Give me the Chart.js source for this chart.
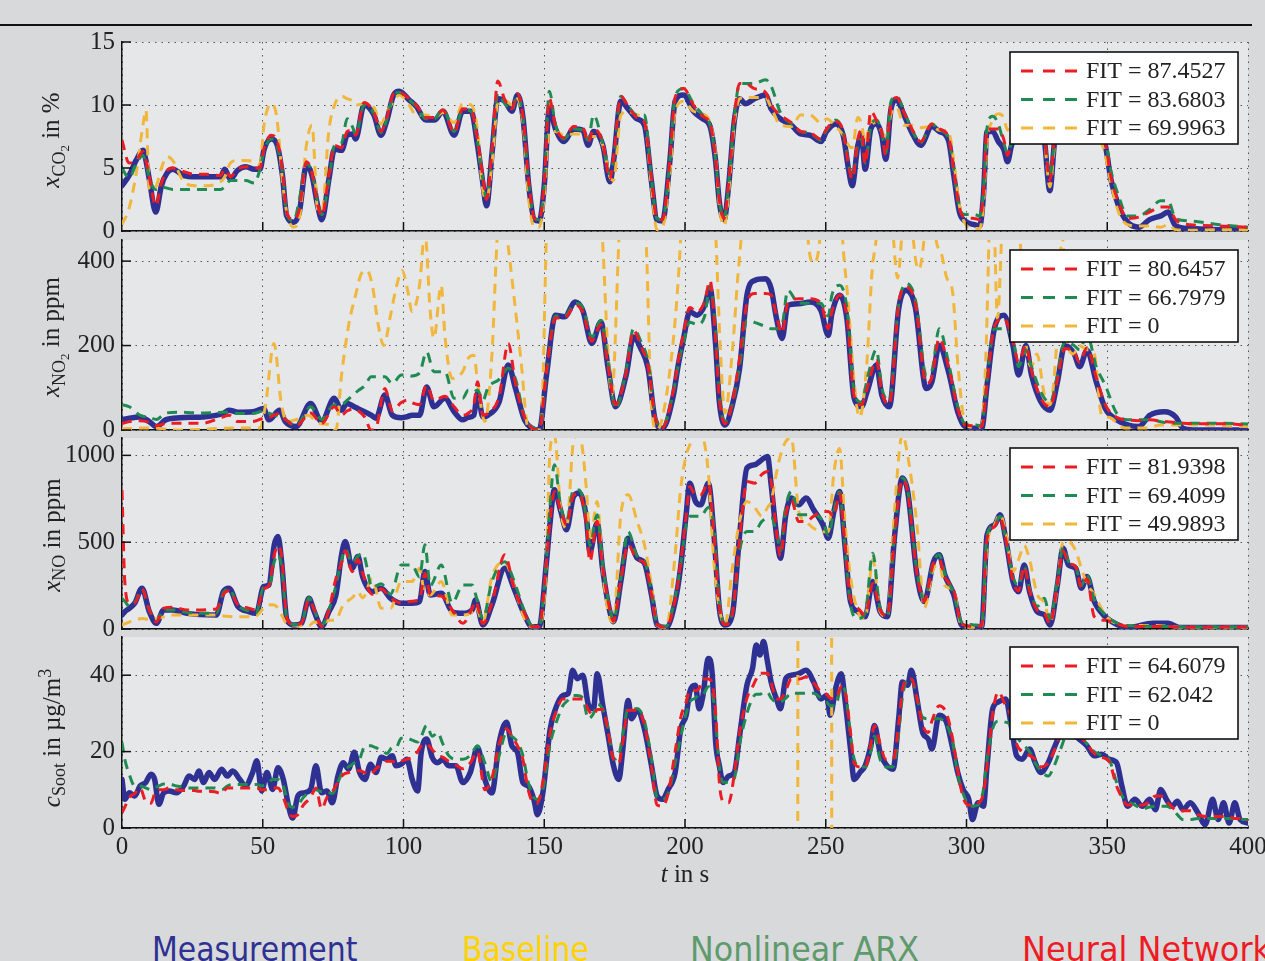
<!DOCTYPE html>
<html><head><meta charset="utf-8">
<script src="https://cdn.jsdelivr.net/npm/chart.js@4.4.1/dist/chart.umd.min.js"></script>
<style>
html,body{margin:0;padding:0;background:#d8d9db;}
#page{position:relative;width:1265px;height:961px;overflow:hidden;background:#d8d9db;font-family:'Liberation Serif',serif;color:#222;}
#topline{position:absolute;left:0;top:24px;width:1252px;height:2px;background:#111;}
canvas{position:absolute;left:0;}
.ytitle{position:absolute;white-space:nowrap;font-size:25px;line-height:1;transform:translate(-50%,-50%) rotate(-90deg);}
.ytitle sub{font-size:0.72em;vertical-align:-0.32em;line-height:0;}
.ytitle sup{font-size:0.72em;vertical-align:0.45em;line-height:0;}
#xtitle{position:absolute;left:685px;top:873px;transform:translate(-50%,-50%);font-size:25px;white-space:nowrap;line-height:1;}
.bl{position:absolute;top:932px;font-family:'DejaVu Sans',sans-serif;font-size:34px;line-height:34px;white-space:nowrap;transform-origin:0 0;}
</style></head>
<body><div id="page">
<div id="topline"></div>
<canvas id="c1" width="1265" height="229" style="top:22px"></canvas>
<canvas id="c2" width="1265" height="230" style="top:220px"></canvas>
<canvas id="c3" width="1265" height="231" style="top:418px"></canvas>
<canvas id="c4" width="1265" height="256" style="top:617px"></canvas>
<div class="ytitle" style="left:51px;top:140px"><i>x</i><sub>CO<sub>2</sub></sub> in %</div>
<div class="ytitle" style="left:51px;top:337px"><i>x</i><sub>NO<sub>2</sub></sub> in ppm</div>
<div class="ytitle" style="left:51px;top:535px"><i>x</i><sub>NO</sub> in ppm</div>
<div class="ytitle" style="left:51px;top:738px"><i>c</i><sub>Soot</sub> in µg/m<sup>3</sup></div>
<div id="xtitle"><i>t</i> in s</div>
<div class="bl" style="left:152px;color:#2e3192;transform:scaleX(0.88)">Measurement</div>
<div class="bl" style="left:462px;color:#ffd200;transform:scaleX(0.88)">Baseline</div>
<div class="bl" style="left:690px;color:#5e9a6c;transform:scaleX(0.935)">Nonlinear ARX</div>
<div class="bl" style="left:1022px;color:#ed1c24;transform:scaleX(0.94)">Neural Network</div>
</div>
<script>
// ---------- shared axis / legend data ----------
const xTicks = [0,50,100,150,200,250,300,350,400];
const co2Ticks = [0,5,10,15];
const no2Ticks = [0,200,400];
const noTicks = [0,500,1000];
const sootTicks = [0,20,40];
const co2Fit = [87.4527, 83.6803, 69.9963];
const no2Fit = [80.6457, 66.7979, 0];
const noFit = [81.9398, 69.4099, 49.9893];
const sootFit = [64.6079, 62.042, 0];

// ---------- CO2 (%) ----------
const tCO2 = [0,2.5,5,7.5,8.5,9.7,12,14,16,18,22,26,30,35,36.5,38.5,41,44,47,49,50.5,53,55,57,58.5,61,63,65.5,67.5,69.5,71,73.5,75.5,78,80,82,83,86,89.5,92,94,96.5,98.5,102,104.5,108,111,114,118,121,124,126.3,128,129.5,131.5,133.5,136,138.5,140.5,142.5,144.5,146.5,148.2,150,151.8,154,157,160.4,163.7,165.6,167.5,170.8,173.3,174.6,177.2,179.8,183,185.6,188.1,190,192,194.6,196.5,199.5,203,206.3,208.9,210.9,212.2,213.9,215.5,217.5,219.4,221.4,224.7,228.6,230.6,233.9,237.8,241.1,244.4,248.3,250.3,253.5,256.2,258.1,259.4,261.4,262.7,264,266,268,269.9,271.3,273.2,275.2,277.8,281.1,283.7,287.7,290.3,293.6,295.5,297.5,299.5,302.8,304.7,306,307.3,309.3,311.3,313.2,314.6,316,320,324,327.5,329.6,331.5,335,340,345,349.3,351.3,354,357.2,361.2,365,369,371.6,374.3,379.5,390,400];
const co2Meas = [3.6,4.4,5.6,6.4,5.6,4.1,1.5,3.6,4.6,4.9,4.4,4.3,4.3,4.3,4.9,4.1,4.8,5.1,4.9,4.9,6.5,7.3,6.9,4.4,1.2,0.7,1.5,5.2,4.4,2.0,0.9,4.1,6.5,6.4,7.6,7.7,7.3,10.0,9.2,7.6,8.7,10.8,11.1,10.4,9.9,8.8,8.8,9.5,7.6,9.5,9.5,6.8,4.1,2.0,6.3,10.5,10.3,9.5,10.8,8.9,3.6,0.9,0.8,3.6,9.7,8.1,7.1,8.1,8.0,6.8,7.9,6.8,3.9,5.5,10.3,9.7,8.9,8.4,3.9,0.9,0.8,5.5,10.3,10.8,9.5,8.9,8.3,5.5,2.3,0.9,3.6,8.7,10.5,10.1,10.5,10.8,9.7,8.9,8.4,7.7,7.6,7.1,7.9,8.5,7.6,4.9,3.6,6.8,7.6,4.9,8.1,8.5,7.6,5.7,9.7,10.4,9.2,7.6,6.8,8.3,7.9,7.2,4.4,1.5,0.8,0.5,0.4,2.8,7.9,7.9,7.1,6.5,5.5,6.8,8.5,8.7,7.5,3.2,7.5,8.7,8.7,8.5,6.8,4.1,2.0,0.7,0.3,0.9,1.2,1.5,0.4,0.2,0.1,0.1];
const co2NN = [7.2,5.4,5.6,6.3,5.6,4.3,2.0,3.8,4.8,5.0,4.7,4.5,4.5,4.4,4.9,4.3,4.9,5.1,5.0,5.0,6.6,7.6,7.2,4.8,1.5,0.9,1.7,5.5,4.6,2.1,1.2,4.4,6.8,6.6,7.9,8.0,7.6,10.2,9.4,7.9,8.9,10.9,11.0,10.5,10.0,9.0,9.0,9.6,7.8,9.7,9.6,7.2,4.6,2.5,6.6,11.9,10.4,9.7,10.9,9.0,3.9,1.0,0.9,3.8,10.5,8.3,7.4,8.3,8.2,7.0,8.1,7.0,4.1,5.8,10.7,9.9,9.0,8.6,4.2,1.0,0.9,5.6,10.6,11.3,10.0,9.1,8.5,5.7,2.5,1.0,3.8,9.0,11.7,11.7,11.3,11.0,10.0,9.2,8.6,7.9,7.8,7.3,8.1,8.7,7.9,5.2,4.1,7.3,8.0,5.3,9.5,8.8,7.8,6.0,10.0,10.6,9.4,7.9,7.1,8.5,8.1,7.5,4.8,1.8,1.1,1.0,0.9,3.0,8.1,8.1,8.1,7.3,6.0,7.2,8.7,8.9,7.8,4.0,7.8,8.9,8.9,8.7,7.0,4.3,2.3,1.0,1.1,1.5,1.9,1.9,0.9,0.5,0.4,0.3];
const co2NARX = [5.0,4.2,5.3,6.0,5.4,4.2,3.3,3.5,3.4,3.3,3.3,3.3,3.3,3.3,3.5,4.0,4.0,4.0,3.8,4.9,6.4,7.3,6.8,4.6,1.4,0.8,2.5,5.4,4.6,2.3,1.3,4.0,6.8,7.0,8.9,8.2,7.6,10.0,9.3,7.8,8.8,10.8,11.0,10.4,9.9,8.9,8.9,9.7,7.9,9.6,9.5,7.0,4.4,2.6,6.5,10.9,10.1,9.6,10.8,8.9,3.8,1.0,0.9,3.7,11.1,8.4,7.3,8.1,8.0,7.2,9.2,6.9,4.5,5.6,10.7,9.9,9.2,9.2,4.1,1.0,0.9,5.5,10.7,11.3,10.1,9.2,8.4,5.6,2.4,1.0,3.7,9.0,11.7,11.7,11.7,12.0,11.5,9.4,8.5,7.9,7.8,7.2,8.0,8.8,7.8,5.3,4.2,6.9,7.3,5.4,8.3,8.8,7.8,6.2,10.3,10.7,9.5,7.8,7.0,8.5,8.0,7.4,4.7,1.8,1.3,1.3,1.2,3.0,8.2,9.1,8.5,7.0,6.2,7.0,8.6,8.8,7.6,4.4,7.5,8.8,8.8,8.6,7.2,4.8,2.8,1.2,1.2,1.7,2.4,2.4,1.0,0.8,0.5,0.3];
const co2Base = [0.5,1.8,4.5,8.5,9.6,3.3,3.5,5.0,5.9,5.6,3.9,3.6,3.6,3.9,4.3,5.4,5.6,5.6,5.5,5.3,8.5,10.1,9.0,4.0,1.5,0.3,1.0,6.8,8.4,1.7,1.5,8.0,10.0,10.7,10.5,10.3,10.0,10.1,9.8,8.5,9.4,10.3,10.8,10.0,9.2,9.2,9.0,9.4,8.6,10.1,10.0,8.0,3.5,2.5,5.5,10.2,10.4,10.0,10.5,8.5,2.5,0.3,0.3,2.8,7.9,7.9,7.6,7.7,7.7,7.5,7.5,6.8,4.3,4.0,9.2,9.5,9.2,8.8,3.5,0.1,0.3,4.5,9.5,10.3,9.5,9.3,8.6,6.0,2.0,0.4,3.0,8.5,10.5,10.6,10.6,10.6,9.8,8.4,8.3,9.2,9.2,8.6,8.9,8.3,7.6,6.8,6.6,9.0,8.5,7.0,8.8,8.3,7.9,7.2,9.3,9.8,8.4,8.4,8.2,8.3,8.0,7.9,5.5,2.0,0.6,0.2,0.2,2.0,7.0,8.8,9.3,9.0,8.0,8.5,8.6,8.6,7.5,3.5,7.2,8.6,8.6,8.4,6.0,3.8,1.5,0.5,0.4,0.4,0.3,0.5,0.1,0.05,0.1,0.1];

// ---------- NO2 (ppm) ----------
const tNO2 = [0,2.6,6.4,9.7,12.2,15.5,20.6,28.4,36,38,41.2,46.4,50.3,52.2,56,58,61.9,67,70.9,75.4,78,79.9,82.5,84,86.3,88.5,90.2,93.4,96,99.2,101.5,103,105.7,108.2,110.8,114.7,118,121,123,125,126.3,128.2,130,134,137.2,139.8,143,145.6,148.2,150.8,154,157.2,161,163.7,166.9,170.1,172.7,175.3,179.1,181.7,184.3,186.9,189.4,192,195.9,197.5,199.5,201.7,204.3,207,208.9,210.9,212.2,214.2,216.8,219.4,222,224.7,228.6,230.6,232.5,234.5,236.5,240.4,244.4,248.3,250.9,252.2,254.9,257.5,260.1,262.7,264.7,268,269.9,272.6,275.9,278.5,281.8,285.7,287.7,290.3,293.6,296.9,299.5,303.4,305.4,307.3,309.9,313.3,316.5,318.5,321.1,323.1,326.4,329.7,332.3,334.9,338.2,340.2,342.8,346.1,349.3,353.3,357.2,361.2,365.1,370.3,374.3,376.9,382.2,390,400];
const no2Meas = [24,28,31,20,8,24,29,31,39,47,42,43,51,24,47,20,8,63,20,75,47,63,55,50,43,35,28,83,35,29,32,35,35,102,55,75,43,24,30,35,87,31,35,67,154,98,24,4,0,130,272,268,303,283,205,256,146,55,130,220,193,146,24,4,83,150,217,280,272,295,335,200,67,12,59,146,319,354,358,335,264,217,295,299,303,283,224,276,319,264,75,55,91,154,83,55,287,331,291,98,114,200,138,43,8,4,4,106,240,272,200,130,200,130,67,47,114,200,181,150,189,114,51,24,12,8,35,43,31,4,0,0,0];
const no2NN = [15,20,22,18,10,15,16,16,31,35,20,20,28,30,39,25,10,40,15,55,35,45,50,45,30,0,5,98,45,65,71,65,60,106,70,80,55,35,40,60,114,35,40,80,205,110,30,5,0,140,265,265,295,280,210,250,150,60,135,236,200,150,30,5,95,160,230,290,280,305,354,210,75,15,65,170,300,323,323,320,270,230,300,311,311,300,240,280,320,270,80,60,100,165,90,60,300,339,300,110,125,217,150,50,12,10,8,110,245,264,210,161,200,140,75,55,120,193,185,160,195,125,60,30,24,22,24,20,18,16,15,15,12];
const no2NARX = [60,55,35,30,25,40,42,40,42,42,39,39,45,40,31,25,10,55,25,60,60,70,85,94,105,126,126,126,110,130,130,128,135,185,138,138,75,75,94,90,95,70,100,120,146,120,30,8,2,135,270,270,300,290,220,260,160,50,140,240,210,160,30,8,90,150,210,255,250,270,343,230,80,20,60,150,260,255,245,240,240,250,331,300,300,300,270,320,343,290,90,65,120,190,100,70,295,347,310,130,140,240,160,55,15,12,10,120,240,240,215,150,190,150,90,65,130,210,200,190,225,150,106,40,24,24,24,18,16,16,16,16,14];
const tNO2Base = [0,10,20,30,40,49,51,54,56.5,58.5,62,66,70,74,76,78,80.5,83,85,87,89,91,93,95.4,97.5,99.5,101.5,103,105.7,107.6,109.5,110.8,113.4,114.7,117.3,121,123,125,126.3,128.9,131.4,133.4,135,136.6,139.2,141.8,144.3,148.8,150.8,152,168,170.7,172.5,174,176.5,178,184,186.2,188,190,192,195,197,198.5,200,209,211,212.5,214.2,216.8,218.8,220,222,242,244,246,248,250,254,256,258,260,262,264.5,266.5,268,270,272,274,275.5,277,279,281,283,285,287,289,291,293,295,297,299.5,303.4,305.4,307,308,309,310,311,312.5,314,317,319,320.5,323,325,327.7,329.7,332,334,336,338,340,342.8,345.4,348,350.6,356,364,369,382,400];
const no2Base = [3,5,0,2,5,5,60,205,67,20,25,35,16,12,0,130,248,320,370,378,340,250,200,272,340,378,330,280,343,470,280,217,343,224,122,138,170,177,114,20,177,470,560,470,319,161,4,0,470,700,700,450,200,83,450,700,700,450,67,0,30,161,300,460,700,700,450,200,40,185,366,460,700,700,430,395,460,700,700,450,300,120,30,150,380,460,700,700,460,360,460,700,460,380,460,700,460,420,360,330,150,15,5,10,200,460,700,460,264,460,700,700,460,250,150,180,83,60,200,460,200,180,200,190,180,35,30,5,5,12,12,8];

// ---------- NO (ppm) ----------
const tNO = [0,1,2.6,4.5,7.1,9.7,12.2,14.8,18,23.2,33.5,36,38,41.2,45,47.7,50.3,52.2,54.1,55.4,56.7,58.6,61.2,63.8,66.4,68.3,70.9,73.5,76,78,79.3,81.8,83.8,85.5,88.9,92.1,95.4,99.2,103,105.7,107.6,109.5,113.4,117.3,121.1,124.4,125.6,128.2,131.4,136,139.2,143,145.6,148.2,150.8,152,153.6,155.9,157.9,160.4,162.4,165,166.2,168.8,170.7,173.3,174.6,177.2,179.8,183,185.6,188.1,190.1,193.3,196.5,198.4,200.4,201.7,203.7,205.6,208.3,210.2,212.2,214.2,216.8,219.4,222,224.7,227.3,229.3,230.6,232.5,233.9,235.8,237.8,240.4,243,245.7,249,250.9,252.9,254.9,256.8,258.8,261.4,264,266.7,269.3,271.9,274.5,277.2,279.1,282.4,285,288.3,290.3,292.3,295.5,298.2,302.1,305.4,307.3,310,311.9,313.9,316.5,318.5,320.5,322.4,325.1,327.7,329.7,332.3,334.3,336.2,338.8,340.8,342.8,345.4,349.3,353.3,357.2,366.4,371.7,375.6,400];
const noMeas = [81,100,119,148,235,100,33,110,110,90,81,215,235,129,100,90,244,254,485,533,388,52,23,33,177,100,13,100,196,427,504,350,417,300,215,235,177,148,148,158,331,196,206,100,90,110,167,23,138,350,235,81,13,13,388,600,802,677,571,763,783,638,446,610,350,100,42,273,523,408,379,196,23,8,158,350,658,840,735,715,840,562,119,23,81,542,927,946,975,994,831,542,408,658,754,715,754,687,600,523,677,792,485,158,100,71,273,100,71,542,869,792,311,158,388,427,311,196,23,8,13,542,600,658,523,273,215,369,215,100,81,23,254,465,369,350,235,302,158,71,27,8,33,33,8,8];
const noNN = [800,270,150,150,230,110,40,120,125,110,115,200,220,140,120,110,230,250,427,480,420,60,25,35,170,110,15,110,292,380,450,330,400,320,200,230,180,150,160,170,320,200,190,110,33,120,160,30,150,427,240,90,15,15,390,610,790,680,600,770,780,600,388,620,360,110,45,280,485,400,380,200,25,10,170,370,650,820,773,773,840,560,130,25,85,520,850,840,890,907,850,560,420,660,740,619,619,650,677,677,650,780,500,170,120,80,260,110,75,540,860,790,320,160,380,400,300,220,30,15,20,520,590,640,520,280,220,360,220,110,90,30,260,450,380,360,240,290,71,50,30,15,15,15,10,12];
const noNARX = [177,160,130,150,230,110,45,110,110,95,90,210,230,135,105,95,240,245,388,430,360,60,25,35,180,110,20,110,250,400,460,380,420,436,240,260,200,369,369,300,485,250,369,150,254,254,200,60,273,388,280,100,20,20,400,700,946,700,620,800,800,640,480,658,380,120,50,290,561,420,390,210,30,15,180,360,600,650,650,650,700,600,150,30,90,450,561,561,620,638,640,560,450,700,792,658,658,658,620,540,680,790,480,140,60,90,436,120,80,560,869,800,330,170,390,427,320,200,40,25,20,540,600,650,520,300,250,360,230,130,177,60,280,470,390,360,250,311,170,80,35,20,15,15,12,12];
const noBase = [23,30,40,50,60,55,60,70,80,80,80,75,72,70,70,75,120,140,138,120,80,30,23,20,20,40,30,50,52,120,150,180,215,180,290,119,119,273,273,350,200,196,273,80,80,100,130,40,300,388,250,60,13,13,390,1020,1120,677,580,1080,1120,800,500,735,350,60,40,658,773,619,485,250,23,8,430,800,1000,1060,1120,1120,900,400,119,23,350,620,735,700,650,700,735,900,1000,1080,1100,677,619,580,560,560,900,1040,620,300,100,60,400,100,70,700,1120,1000,600,120,350,370,250,220,20,10,15,480,600,660,560,330,400,480,400,200,150,40,250,500,504,450,350,260,200,80,30,20,20,15,10,10];

// ---------- Soot (µg/m3) ----------
const tSoot = [0,1,2.6,4.5,6.4,8.4,10.3,11.6,13.1,14.8,16.8,19.3,21.9,23.8,25.8,27.3,29,30.9,32.9,35.4,37.4,39.3,41.9,43.8,46.4,47.9,49.6,51.5,53.5,55.4,57.3,59.3,60.6,62.5,64.4,67,68.9,70.9,72.8,74.7,76.7,78.6,80.5,82.5,84.4,86.3,88.3,90.2,92.1,94.1,96,97.3,99.2,101.2,103.1,105,106.3,108.2,110.2,112.1,114,116,118.6,121.1,123.7,126.3,128.9,131.4,134,136.6,138.5,140.5,142.4,144.3,146.3,147.6,149.5,152.1,154,156.6,158.5,160.1,161.7,163.7,165.6,167.5,168.8,170.8,172.7,174.6,176.5,177.8,179.8,181,183,185.6,188.1,190.1,192,194,196.5,198.5,200.4,201.7,203.7,205,206.3,208.3,209.6,210.9,212.2,213.5,215.5,217.5,219.4,222,224,225.3,226.6,227.9,229.3,230.6,232.5,233.9,235.8,237.8,240.4,243,245.7,248.3,250.3,251.6,253.5,255.5,256.8,258.8,260.1,262.1,264,266,267.3,269.3,271.3,273.9,275.9,277.2,279.1,280.4,282.4,284.4,286.4,287.7,290.3,292.9,294.9,296.9,298.8,300.8,302.1,304.1,306,307.3,309.3,311.3,313.9,315.9,317.8,319.8,322.4,324.4,326.4,329,331,333.6,336,339,342.8,345.4,348,350.6,353.3,355.2,357.2,359.8,362.5,365.1,367.1,369,371,373,374.9,376.9,379.5,382.2,384.8,387.4,389.4,391.3,393.3,395.3,397.2,400];
const sootMeas = [12.7,7.5,9.2,8.4,11.0,11.9,14.1,12.7,6.2,9.2,9.7,9.2,11.0,13.6,12.7,14.9,11.9,14.5,12.7,15.4,13.6,14.9,12.7,11.0,14.5,17.6,9.7,14.5,10.1,15.8,12.7,5.3,2.6,8.4,9.2,10.1,16.3,9.2,9.7,6.6,13.6,17.1,15.4,19.8,14.5,12.7,16.7,14.5,18.5,18.0,18.9,16.3,16.7,18.0,12.7,9.7,19.8,23.3,18.5,17.1,18.0,16.3,16.3,11.9,14.5,21.1,12.7,9.2,22.4,27.7,21.5,19.8,11.9,11.0,7.5,3.5,9.2,25.9,31.2,34.7,35.2,41.3,39.1,40.0,32.5,31.2,40.4,32.1,24.2,16.3,12.7,19.8,33.4,28.6,30.8,25.9,16.3,8.4,7.5,10.1,14.5,25.9,29.5,35.6,37.4,31.2,34.3,44.4,40.9,22.4,16.3,11.9,13.6,14.5,24.2,37.4,41.8,47.9,45.3,48.8,43.5,38.2,33.8,31.2,39.1,40.0,40.4,41.3,38.2,33.8,34.7,29.5,36.5,40.4,33.8,20.7,12.7,14.5,16.3,21.5,26.8,19.8,16.7,15.4,28.6,38.2,37.4,41.3,33.8,25.1,23.3,20.7,29.5,27.7,21.5,14.5,10.1,7.5,2.2,6.6,5.7,16.3,31.2,33.0,33.8,26.8,18.9,18.0,20.7,17.1,14.5,17.1,20.7,25.0,27.0,24.0,21.5,18.9,19.3,18.0,17.1,11.0,5.7,7.5,5.7,7.5,4.8,10.1,7.5,5.7,7.0,4.8,6.6,4.0,0.9,7.5,2.2,6.6,1.3,6.6,2.2,1.3];
const sootNN = [4.0,5.5,8.0,9.0,10.5,7.0,6.5,9.0,10.0,10.0,10.5,10.0,9.8,9.8,9.8,9.6,9.6,9.6,9.5,9.0,10.5,10.5,10.5,10.5,10.5,10.5,10.0,10.0,10.5,10.5,8.0,4.0,3.0,3.5,6.0,8.0,10.5,5.0,8.0,9.5,12.0,14.0,14.5,15.0,15.0,14.5,14.0,15.5,16.5,17.5,17.5,17.0,17.5,18.0,18.5,20.0,21.5,22.0,20.5,19.0,18.5,17.5,16.5,15.5,17.0,20.0,10.0,13.0,22.0,26.0,24.0,21.5,18.0,10.0,6.6,6.6,12.0,25.0,30.0,33.8,33.8,33.8,33.8,33.8,31.0,29.5,31.0,31.0,25.0,18.0,17.0,22.0,30.8,30.8,30.8,27.0,16.0,6.0,5.7,9.0,20.0,29.0,33.0,36.0,36.0,36.5,39.0,39.0,38.0,30.0,12.0,7.0,6.6,14.0,25.0,34.0,37.0,39.0,40.5,40.5,40.5,38.0,33.8,33.8,36.0,39.0,39.0,39.5,38.0,35.6,35.0,34.0,33.8,37.0,36.0,25.0,17.0,16.0,16.0,22.0,26.8,22.0,18.0,18.0,27.0,36.0,39.0,39.0,34.0,27.0,25.0,28.0,32.0,30.0,24.0,15.0,8.0,6.0,6.0,6.5,9.0,16.3,30.0,35.6,32.0,29.0,22.0,20.0,19.0,18.0,16.0,17.0,20.0,25.0,27.0,25.0,22.0,19.5,18.5,17.5,11.0,8.0,6.0,6.0,6.0,7.0,8.4,8.4,7.0,5.5,4.5,4.5,4.5,3.5,3.0,3.0,3.0,3.0,3.0,2.5,2.5,2.0];
const sootNARX = [22.4,18.0,14.0,11.0,11.0,10.5,10.0,10.5,11.0,11.5,11.5,11.0,10.8,10.5,10.5,10.5,10.5,10.5,10.5,10.0,11.0,11.4,11.4,11.4,11.4,11.4,11.0,11.5,12.7,12.7,11.0,6.0,5.5,6.0,8.0,9.5,10.0,9.5,9.5,9.0,12.0,15.0,16.0,17.0,18.0,21.5,21.5,21.0,20.5,19.5,21.0,21.0,23.5,23.5,23.0,22.5,24.0,26.8,24.0,25.0,22.0,19.0,18.0,18.0,19.0,21.5,17.0,12.0,19.0,25.0,24.0,22.5,19.0,12.0,8.0,7.5,10.0,22.0,27.0,32.0,33.5,34.7,34.7,34.0,28.6,30.0,32.5,31.0,26.0,18.0,19.0,24.0,31.2,31.2,31.2,28.0,18.0,8.0,7.5,9.0,17.0,24.0,30.0,33.0,34.0,35.0,35.0,37.0,36.0,28.0,16.0,12.0,12.0,13.0,22.0,30.0,34.0,35.0,35.0,35.5,35.5,34.0,33.0,33.0,34.0,35.3,35.3,35.3,35.3,34.0,33.0,32.0,32.0,37.0,36.0,24.0,18.0,16.0,16.0,20.0,24.0,18.0,16.0,16.0,25.0,34.0,39.0,39.0,34.0,29.0,28.6,28.6,28.6,27.0,23.0,14.0,9.0,6.0,5.7,6.0,10.0,18.0,26.0,28.0,27.7,27.0,24.0,22.0,20.0,17.0,15.0,13.6,16.0,21.0,25.0,25.0,22.0,20.0,19.0,18.0,12.0,8.5,7.0,6.0,5.0,5.5,5.7,5.7,5.7,5.0,3.5,2.2,2.2,2.5,2.5,2.5,2.5,2.5,2.5,2.5,2.2,2.2];
const tSootBase = [0,239.8,240.4,251.8,252.4,400];
const sootBase = [-400,-400,500,500,-400,-400];

// ---------- styling ----------
const measColor = '#2e3192', baseColor = '#f1b63c', narxColor = '#1f8a52', nnColor = '#ec1c24';
const pts = (t, v) => t.map((x, i) => ({x: x, y: v[i]}));

function decoPlugin(fits) {
  return {
    id: 'panelDeco',
    beforeDraw(chart) {
      const {ctx, chartArea: a} = chart;
      ctx.save();
      ctx.fillStyle = '#e6e7e9';
      ctx.fillRect(a.left, a.top, a.right - a.left, a.bottom - a.top);
      ctx.restore();
    },
    afterDraw(chart) {
      const {ctx, chartArea: a} = chart;
      const xs = chart.scales.x, ys = chart.scales.y;
      ctx.save();
      ctx.strokeStyle = '#111'; ctx.lineWidth = 1.5;
      ys.ticks.forEach(t => {
        const py = ys.getPixelForValue(t.value);
        ctx.beginPath(); ctx.moveTo(a.left, py); ctx.lineTo(a.left + 9, py); ctx.stroke();
      });
      xs.ticks.forEach(t => {
        if (t.value <= xs.min || t.value >= xs.max) return;
        const px = xs.getPixelForValue(t.value);
        ctx.beginPath(); ctx.moveTo(px, a.bottom); ctx.lineTo(px, a.bottom - 9); ctx.stroke();
      });
      // FIT legend box
      const bw = 228, bh = 92, bx = a.right - 10 - bw, by = a.top + 10;
      ctx.fillStyle = '#ffffff';
      ctx.fillRect(bx, by, bw, bh);
      ctx.lineWidth = 1.6; ctx.strokeStyle = '#111';
      ctx.strokeRect(bx, by, bw, bh);
      const cols = [nnColor, narxColor, baseColor];
      ctx.font = '24px "Liberation Serif"';
      ctx.textBaseline = 'middle';
      fits.forEach((f, i) => {
        const cy = by + 19 + i * 28.5;
        ctx.setLineDash([12, 10]);
        ctx.strokeStyle = cols[i]; ctx.lineWidth = 3;
        ctx.beginPath(); ctx.moveTo(bx + 11, cy); ctx.lineTo(bx + 70, cy); ctx.stroke();
        ctx.setLineDash([]);
        ctx.fillStyle = '#222';
        ctx.fillText('FIT = ' + f, bx + 76, cy + 1);
      });
      ctx.restore();
    }
  };
}

function makePanel(id, opt) {
  const isLast = !!opt.last;
  const dashed = (label, data, color, order, extra) => Object.assign({
    label, data, borderColor: color, borderWidth: 3, borderDash: [10, 7],
    pointRadius: 0, cubicInterpolationMode: 'monotone', fill: false, order
  }, extra || {});
  const gridCfg = {display: true, color: 'rgba(60,60,60,0.85)', lineWidth: 1, drawTicks: false};
  const borderCfg = {display: true, color: '#111', width: 1.5, dash: [1.5, 5]};
  const tickFont = {family: 'Liberation Serif', size: 25};
  new Chart(document.getElementById(id), {
    type: 'line',
    data: {datasets: [
      {label: 'Measurement', data: pts(opt.t, opt.meas), borderColor: measColor, borderWidth: 5.5,
       pointRadius: 0, cubicInterpolationMode: 'monotone', borderJoinStyle: 'round', borderCapStyle: 'round', fill: false, order: 4},
      dashed('Baseline', pts(opt.tBase, opt.base), baseColor, 3, opt.baseExtra),
      dashed('Nonlinear ARX', pts(opt.t, opt.narx), narxColor, 2),
      dashed('Neural Network', pts(opt.t, opt.nn), nnColor, 1)
    ]},
    options: {
      responsive: false, animation: false, events: [],
      layout: {autoPadding: false, padding: {top: 20, right: 17, bottom: isLast ? 0 : 20, left: 0}},
      plugins: {legend: {display: false}, tooltip: {enabled: false}},
      scales: {
        x: {type: 'linear', min: 0, max: 400,
            afterBuildTicks: s => { s.ticks = xTicks.map(v => ({value: v})); },
            ticks: {display: isLast, color: '#222', font: tickFont, padding: 4, maxRotation: 0, autoSkip: false, callback: v => String(v)},
            grid: gridCfg, border: borderCfg,
            afterFit: s => { s.height = isLast ? 45 : 0; s.paddingLeft = 0; s.paddingRight = 0; }},
        y: {type: 'linear', min: 0, max: opt.max,
            afterBuildTicks: s => { s.ticks = opt.ticks.map(v => ({value: v})); },
            ticks: {color: '#222', font: tickFont, padding: 7, callback: v => String(v)},
            grid: gridCfg, border: borderCfg,
            afterFit: s => { s.width = 122; s.paddingTop = 0; s.paddingBottom = 0; }}
      }
    },
    plugins: [decoPlugin(opt.fits)]
  });
}

makePanel('c1', {t: tCO2, meas: co2Meas, nn: co2NN, narx: co2NARX, tBase: tCO2, base: co2Base, max: 15, ticks: co2Ticks, fits: co2Fit});
makePanel('c2', {t: tNO2, meas: no2Meas, nn: no2NN, narx: no2NARX, tBase: tNO2Base, base: no2Base, max: 450, ticks: no2Ticks, fits: no2Fit});
makePanel('c3', {t: tNO, meas: noMeas, nn: noNN, narx: noNARX, tBase: tNO, base: noBase, max: 1100, ticks: noTicks, fits: noFit});
makePanel('c4', {t: tSoot, meas: sootMeas, nn: sootNN, narx: sootNARX, tBase: tSootBase, base: sootBase, max: 50, ticks: sootTicks, fits: sootFit, last: true,
  baseExtra: {cubicInterpolationMode: 'default', tension: 0}});
</script>
</body></html>
